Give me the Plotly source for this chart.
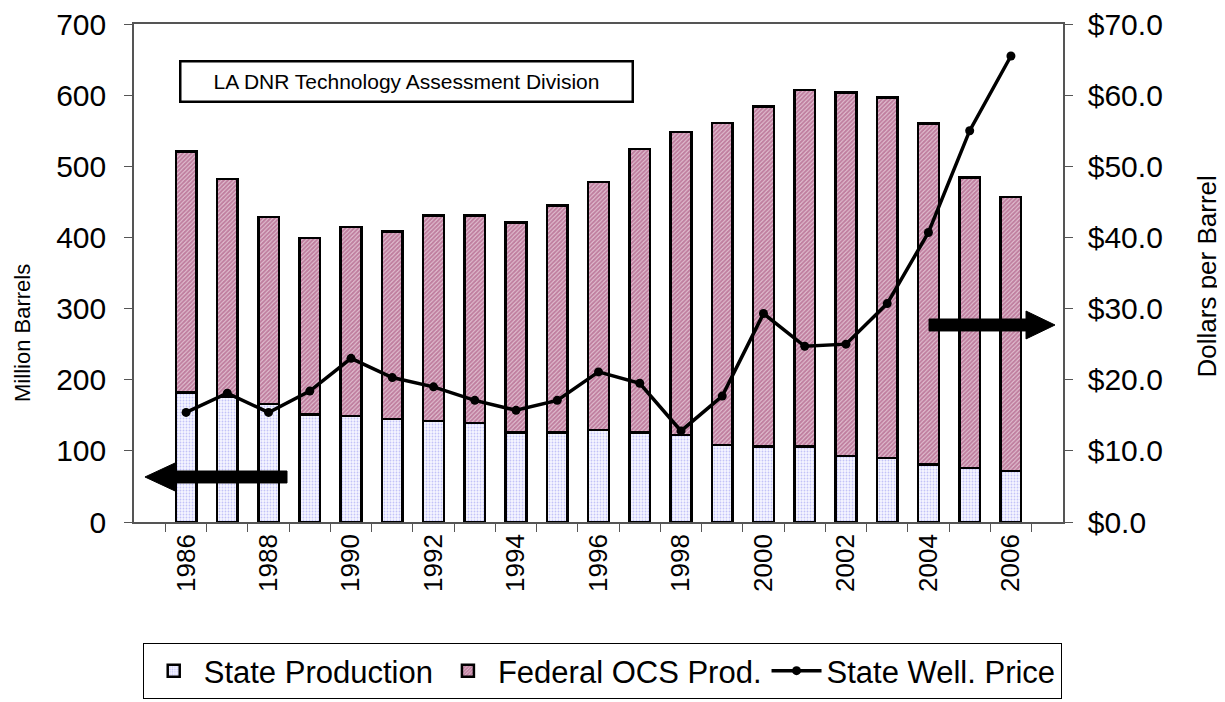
import plotly.graph_objects as go

years = [str(y) for y in range(1986, 2007)]
tick_labels = [y if int(y) % 2 == 0 else "" for y in years]

state_prod = [182, 176, 166, 151, 149, 145, 142, 139, 126, 126, 129, 126, 122, 108, 106, 106, 93, 90, 81, 76, 72]
federal_prod = [339, 306, 263, 248, 266, 263, 289, 292, 295, 319, 349, 398, 426, 453, 478, 501, 511, 507, 479, 408, 385]
price = [15.4, 18.1, 15.4, 18.4, 23.0, 20.3, 19.0, 17.1, 15.7, 17.1, 21.1, 19.5, 12.8, 17.7, 29.3, 24.7, 25.0, 30.7, 40.7, 55.0, 65.5]

FONT = "Liberation Sans, Arial, sans-serif"

fig = go.Figure()
fig.add_trace(go.Bar(
    x=years, y=state_prod, name="State Production", width=0.5,
    marker=dict(color="white", line=dict(color="black", width=2.5),
                pattern=dict(shape=".", fgcolor="#9090f0", bgcolor="#f6f6ff", size=3, solidity=0.3)),
))
fig.add_trace(go.Bar(
    x=years, y=federal_prod, name="Federal OCS Prod.", width=0.5,
    marker=dict(color="white", line=dict(color="black", width=2.5),
                pattern=dict(shape="/", fgcolor="#993366", bgcolor="#e6cbd9", size=3, solidity=0.7)),
))
fig.add_trace(go.Scatter(
    x=years, y=price, name="State Well. Price", yaxis="y2", mode="lines+markers",
    line=dict(color="black", width=3.5), marker=dict(color="black", size=9),
))

def arrow_path(tip, base, tail, yc, sh, hh):
    return (f"M {tail},{yc+sh} L {base},{yc+sh} L {base},{yc+hh} L {tip},{yc} "
            f"L {base},{yc-hh} L {base},{yc-sh} L {tail},{yc-sh} Z")

shapes = [
    dict(type="path", xref="paper", yref="paper", layer="above",
         path=arrow_path(0.0118, 0.0441, 0.1647, 0.0904, 0.012, 0.028),
         fillcolor="black", line=dict(color="black", width=1)),
    dict(type="path", xref="paper", yref="paper", layer="above",
         path=arrow_path(0.9914, 0.9602, 0.8558, 0.3956, 0.012, 0.028),
         fillcolor="black", line=dict(color="black", width=1)),
]

annotations = [
    dict(text="LA DNR Technology Assessment Division", xref="paper", yref="paper",
         x=0.2928, y=0.8855, xanchor="center", yanchor="middle", showarrow=False,
         font=dict(family=FONT, size=21, color="black"),
         bordercolor="black", borderwidth=2.5, borderpad=5, bgcolor="white", width=440, height=28),
    dict(text="Million Barrels", xref="paper", yref="paper", x=-0.1206, y=0.3795,
         xanchor="center", yanchor="middle", textangle=-90, showarrow=False,
         font=dict(family=FONT, size=22, color="black")),
    dict(text="Dollars per Barrel", xref="paper", yref="paper", x=1.155, y=0.493,
         xanchor="center", yanchor="middle", textangle=-90, showarrow=False,
         font=dict(family=FONT, size=26, color="black")),
]

fig.update_layout(
    width=1225, height=702, barmode="stack",
    margin=dict(l=126, r=170, t=16, b=188, autoexpand=False),
    paper_bgcolor="white", plot_bgcolor="white",
    font=dict(family=FONT, color="black"),
    xaxis=dict(type="category", tickvals=years, ticktext=tick_labels, tickson="boundaries",
               tickangle=-90, ticks="outside", ticklen=8, tickcolor="#555", automargin=False,
               showline=True, linecolor="#555", linewidth=1.5, mirror=True,
               showgrid=False, tickfont=dict(size=26, family=FONT)),
    yaxis=dict(range=[0, 700], dtick=100, ticks="outside", ticklen=8, tickcolor="#555",
               automargin=False, ticklabeloverflow="allow",
               showline=True, linecolor="#555", linewidth=1.5, showgrid=False, zeroline=False,
               tickfont=dict(size=30, family=FONT), ticklabelstandoff=12),
    yaxis2=dict(range=[0, 70], dtick=10, overlaying="y", side="right", tickformat="$.1f",
                ticks="outside", ticklen=8, tickcolor="#555", automargin=False,
                ticklabeloverflow="allow",
                showline=True, linecolor="#555", linewidth=1.5, showgrid=False, zeroline=False,
                tickfont=dict(size=30, family=FONT), ticklabelstandoff=9),
    legend=dict(orientation="h", x=0.504, xanchor="center", y=-0.243, yanchor="top",
                font=dict(size=31, family=FONT), bordercolor="black", borderwidth=1,
                bgcolor="white", traceorder="normal", itemwidth=50),
    shapes=shapes, annotations=annotations, bargap=0.5,
)

fig.write_html("out.html")
